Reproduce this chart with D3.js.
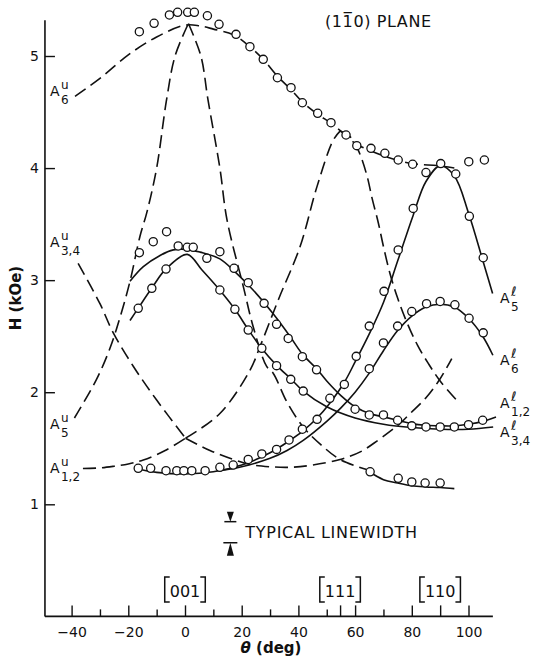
<!DOCTYPE html>
<html><head><meta charset="utf-8">
<script src="https://cdn.jsdelivr.net/npm/d3@7"></script>
<style>
html,body{margin:0;padding:0;background:#fff;}
svg{display:block;}
text{font-family:"DejaVu Sans",sans-serif;fill:#111;}
</style></head><body>
<svg id="chart" width="537" height="658"></svg>
<script>
// ---------------- DATA (theta in deg, H in kOe) ----------------
const xTickLabeled = [-40, -20, 0, 20, 40, 60, 80, 100];
const xTickMinor = [-30, -10, 10, 30, 50, 70];
const xTickSpecial = [54.7, 90];
const yTickValues = [1, 2, 3, 4, 5];
const directions = [["001", 0], ["111", 54.7], ["110", 90]];

// dashed (upper-branch) theory curves
const a6uCurve = [[-38.8,4.64],[-30,4.80],[-20,5.01],[-10,5.17],[0,5.275],[5,5.27],[10,5.24],[17,5.19],[23,5.08],[27.6,4.97],[32.6,4.82],[37.4,4.70],[41.4,4.59],[46.8,4.48],[51.5,4.40],[56.8,4.29],[60.6,4.21],[65,4.16],[70,4.11],[75,4.07],[80,4.04],[90,4.02],[95,4.00]];
const a5uLeft = [[-39,1.77],[-31.3,2.11],[-26.5,2.39],[-22.9,2.67],[-19.4,2.99],[-15.9,3.39],[-13.5,3.60],[-10,4.0],[-6.5,4.61],[-3.5,5.0],[1.2,5.29]];
const a5uRight = [[1.2,5.29],[5.6,5.0],[8.1,4.61],[12.3,4.0],[14.8,3.54],[20.6,2.94],[24.1,2.58],[28.8,2.23],[31.1,2.17],[36,1.91],[41.7,1.69],[48,1.53],[54.7,1.40],[64.1,1.31]];
const a5uTail = [[65,1.29],[70,1.22],[75,1.19],[80,1.165],[85,1.155],[90,1.15],[95,1.14]];
const a34uLeft = [[-37.7,3.15],[-30,2.79],[-25.3,2.53],[-18.2,2.23],[-10,1.93],[0.2,1.59]];
const a34uMid = [[0.2,1.59],[12.3,1.81],[23,2.20],[26.5,2.41],[33,2.83],[40.6,3.30],[46.5,3.83],[52.3,4.25],[54.7,4.33]];
const a34uRight = [[54.7,4.33],[58.2,4.28],[61.1,4.16],[64.1,3.94],[66,3.73],[68.2,3.51],[70,3.30],[72.3,3.06],[75,2.84],[78,2.64],[82,2.42],[86,2.25],[90,2.10],[95.8,1.93]];
const a12uLeft = [[-36,1.32],[-30,1.325],[-25,1.34],[-20,1.36],[-14.7,1.395],[-7,1.48],[0.2,1.59]];
const a12uRight = [[0.2,1.59],[8.8,1.48],[17,1.40],[23,1.355],[30,1.335],[37,1.33],[45,1.35],[54.7,1.40],[62,1.47],[68,1.57],[72.3,1.65],[75.8,1.72],[79.4,1.81],[85,1.95],[90,2.12],[94.1,2.30]];

// solid (lower-branch) theory curves
const a12lCurve = [[-19.4,2.99],[-14.7,3.12],[-8.8,3.22],[-4.1,3.27],[0.6,3.275],[5.3,3.25],[12.3,3.19],[18.2,3.06],[24.1,2.91],[31.1,2.70],[37,2.50],[41.4,2.34],[46.4,2.21],[50,2.10],[55,1.97],[60,1.87],[65,1.81],[70,1.78],[75,1.75],[80,1.72],[85,1.705],[90,1.70],[95,1.70],[100,1.715],[105,1.74],[109.7,1.78]];
const a34lCurve = [[-19.4,2.64],[-16.5,2.75],[-11.7,2.93],[-6.7,3.10],[0.8,3.23],[6,3.09],[12.3,2.91],[17.6,2.74],[22.3,2.56],[27.1,2.39],[32.3,2.24],[37.3,2.12],[41.7,2.01],[50,1.87],[60,1.77],[70,1.715],[80,1.685],[90,1.67],[100,1.67],[108.7,1.69]];
const a5lCurve = [[-17.6,1.32],[-10,1.285],[0,1.27],[10,1.29],[20,1.35],[30,1.46],[37,1.57],[41.4,1.65],[46.6,1.77],[51,1.90],[56,2.08],[60,2.27],[65,2.52],[70,2.80],[75,3.17],[80.5,3.58],[85,3.88],[90,4.02],[95,3.93],[100,3.60],[105,3.18],[108.5,2.88]];
const a6lCurve = [[12,1.30],[20,1.335],[30,1.41],[36,1.48],[41.7,1.57],[50,1.74],[55,1.86],[60,2.00],[65,2.17],[70,2.37],[75,2.55],[80,2.68],[85,2.76],[90,2.785],[95,2.76],[100,2.66],[105,2.50],[108.6,2.33]];

// measured points (open circles)
const a6uPts = [[-16.1,5.217],[-10.9,5.292],[-5.5,5.366],[-2.6,5.39],[0.95,5.39],[3.3,5.39],[7.9,5.359],[12.0,5.283],[18.0,5.193],[22.9,5.083],[27.6,4.97],[32.6,4.806],[37.4,4.717],[41.4,4.583],[46.8,4.489],[51.5,4.405],[56.8,4.295],[60.6,4.20],[65.6,4.176],[70.5,4.132],[75.2,4.072],[80.3,4.034],[100.1,4.057],[105.6,4.072]];
const a5uPts = [[65.3,1.29],[75.2,1.232],[80,1.20],[84.7,1.19],[90,1.19]];
const a12lPts = [[-16.1,3.245],[-11.2,3.343],[-6.5,3.432],[-2.4,3.305],[0.8,3.293],[2.9,3.293],[7.7,3.195],[12.3,3.254],[17.3,3.106],[22.3,2.977],[27.9,2.793],[32.3,2.606],[36.4,2.48],[41.4,2.317],[46.4,2.20],[60,1.848],[65,1.797],[70,1.797],[75,1.75],[80,1.70],[85,1.69],[90,1.69],[95,1.69],[100,1.71],[105,1.75]];
const a34lPts = [[-16.5,2.749],[-11.7,2.927],[-6.7,3.099],[12.3,2.912],[17.6,2.74],[22.3,2.555],[27.1,2.392],[32.3,2.237],[37.3,2.115],[41.7,2.01]];
const a5lPts = [[-16.5,1.321],[-12.1,1.321],[-6.7,1.30],[-2.9,1.30],[-0.4,1.30],[2.4,1.30],[7.1,1.30],[12.3,1.33],[17,1.35],[22.3,1.40],[27.1,1.449],[32.3,1.49],[36.7,1.574],[41.4,1.67],[46.6,1.758],[51.1,1.946],[56.2,2.07],[60.4,2.32],[65,2.59],[70.2,2.90],[75.2,3.27],[80.5,3.64],[85,3.96],[90.2,4.04],[95.5,3.947],[100.3,3.57],[105.2,3.20]];
const a6lPts = [[65,2.21],[70,2.44],[75,2.59],[80,2.72],[85.2,2.79],[90,2.81],[95.2,2.78],[100.2,2.66],[105.2,2.53]];

// curve labels: [superscript, subscript, side, baseline H]
const curveLabels = [
  ["u","6","left",4.64],["u","3,4","left",3.30],["u","5","left",1.67],["u","1,2","left",1.28],
  ["\u2113","5","right",2.80],["\u2113","6","right",2.24],["\u2113","1,2","right",1.86],["\u2113","3,4","right",1.60]
];
const linewidthTheta = 16, linewidthTop = 0.845, linewidthBottom = 0.657;

// ---------------- DRAW ----------------
const svg = d3.select("#chart");
const x = d3.scaleLinear().domain([-40, 100]).range([71.6, 468.5]);
const y = d3.scaleLinear().domain([1, 5]).range([504.3, 56]);
const xExt = [-49.4, 108.6], yExt = [0, 5.32];

const ink = "#111";
// axis lines
svg.append("line").attr("x1", x(xExt[0])).attr("x2", x(xExt[0])).attr("y1", y(yExt[0])).attr("y2", y(yExt[1]))
  .attr("stroke", ink).attr("stroke-width", 1.6);
svg.append("line").attr("x1", x(xExt[0])).attr("x2", x(xExt[1])).attr("y1", y(yExt[0])).attr("y2", y(yExt[0]))
  .attr("stroke", ink).attr("stroke-width", 1.6);

const fmt = d => d < 0 ? "\u2212" + Math.abs(d) : String(d);
const gx = svg.append("g").attr("transform", `translate(0,${y(0)})`)
  .call(d3.axisBottom(x).tickValues(xTickLabeled).tickFormat(fmt).tickSize(-11).tickPadding(11).tickSizeOuter(0));
const gx2 = svg.append("g").attr("transform", `translate(0,${y(0)})`)
  .call(d3.axisBottom(x).tickValues(xTickSpecial).tickFormat("").tickSize(-11).tickSizeOuter(0));
const gx3 = svg.append("g").attr("transform", `translate(0,${y(0)})`)
  .call(d3.axisBottom(x).tickValues(xTickMinor).tickFormat("").tickSize(-7).tickSizeOuter(0));
const gy = svg.append("g").attr("transform", `translate(${x(xExt[0])},0)`)
  .call(d3.axisLeft(y).tickValues(yTickValues).tickFormat(d3.format("d")).tickSize(-10).tickPadding(6).tickSizeOuter(0));
[gx, gx2, gx3, gy].forEach(g => {
  g.select(".domain").remove();
  g.attr("font-family", "DejaVu Sans").attr("font-size", 14);
  g.selectAll("line").attr("stroke", ink).attr("stroke-width", 1.4);
  g.selectAll("text").attr("fill", ink);
});

// curves
const line = d3.line().x(d => x(d[0])).y(d => y(d[1])).curve(d3.curveCatmullRom.alpha(0.5));
const dashed = [a6uCurve, a5uLeft, a5uRight, a34uLeft, a34uMid, a34uRight, a12uLeft, a12uRight];
const solid = [a5uTail, a12lCurve, a34lCurve, a5lCurve, a6lCurve];
svg.append("g").selectAll("path").data(dashed).join("path")
  .attr("d", line).attr("fill", "none").attr("stroke", ink).attr("stroke-width", 1.6)
  .attr("stroke-dasharray", "13,6");
svg.append("g").selectAll("path").data(solid).join("path")
  .attr("d", line).attr("fill", "none").attr("stroke", ink).attr("stroke-width", 1.6);

// points
const allPts = [].concat(a6uPts, a5uPts, a12lPts, a34lPts, a5lPts, a6lPts);
svg.append("g").selectAll("circle").data(allPts).join("circle")
  .attr("cx", d => x(d[0])).attr("cy", d => y(d[1])).attr("r", 4.1)
  .attr("fill", "#fff").attr("stroke", ink).attr("stroke-width", 1.3);

// curve labels
curveLabels.forEach(([sup, sub, side, h]) => {
  const xa = side === "left" ? x(xExt[0]) + 5 : 500;
  const yb = y(h);
  svg.append("text").attr("x", xa).attr("y", yb).attr("font-size", 14).text("A");
  svg.append("text").attr("x", xa + 11).attr("y", yb - 7).attr("font-size", sup === "u" ? 12 : 13).text(sup);
  svg.append("text").attr("x", xa + 11).attr("y", yb + 8).attr("font-size", 12).text(sub);
});

// direction brackets
directions.forEach(([lab, th]) => {
  const cx = x(th);
  const t = svg.append("text").attr("x", cx).attr("y", 596.5).attr("text-anchor", "middle")
    .attr("font-size", 16).text(lab);
  const w = t.node().getComputedTextLength() / 2 + 5;
  const y1 = 577, y2 = 602;
  svg.append("path").attr("d", `M${cx - w + 5},${y1}H${cx - w}V${y2}H${cx - w + 5}`)
    .attr("fill", "none").attr("stroke", ink).attr("stroke-width", 1.5);
  svg.append("path").attr("d", `M${cx + w - 5},${y1}H${cx + w}V${y2}H${cx + w - 5}`)
    .attr("fill", "none").attr("stroke", ink).attr("stroke-width", 1.5);
});

// typical linewidth
{
  const cx = x(linewidthTheta), yt = y(linewidthTop), yb = y(linewidthBottom);
  svg.append("line").attr("x1", cx - 6).attr("x2", cx + 6).attr("y1", yt).attr("y2", yt).attr("stroke", ink).attr("stroke-width", 1.5);
  svg.append("line").attr("x1", cx - 7).attr("x2", cx + 7).attr("y1", yb).attr("y2", yb).attr("stroke", ink).attr("stroke-width", 1.5);
  svg.append("path").attr("d", `M${cx - 3.5},${yt - 10}L${cx + 3.5},${yt - 10}L${cx},${yt}Z`).attr("fill", ink);
  svg.append("path").attr("d", `M${cx - 3.5},${yb + 13}L${cx + 3.5},${yb + 13}L${cx},${yb}Z`).attr("fill", ink);
  svg.append("text").attr("x", cx + 15).attr("y", (yt + yb) / 2 + 5.5).attr("font-size", 16)
    .attr("letter-spacing", 0.7).text("TYPICAL LINEWIDTH");
}

// title
svg.append("text").attr("x", 325).attr("y", 26.5).attr("font-size", 16).attr("letter-spacing", 0.6)
  .text("(1\u0031\u03050) PLANE");

// axis titles
svg.append("text").attr("transform", "translate(21,298) rotate(-90)").attr("text-anchor", "middle")
  .attr("font-size", 15).attr("font-weight", "bold").text("H (kOe)");
const xt = svg.append("text").attr("x", 271).attr("y", 653).attr("text-anchor", "middle")
  .attr("font-size", 15).attr("font-weight", "bold");
xt.append("tspan").attr("font-style", "italic").text("\u03b8");
xt.append("tspan").text(" (deg)");
</script>
</body></html>
